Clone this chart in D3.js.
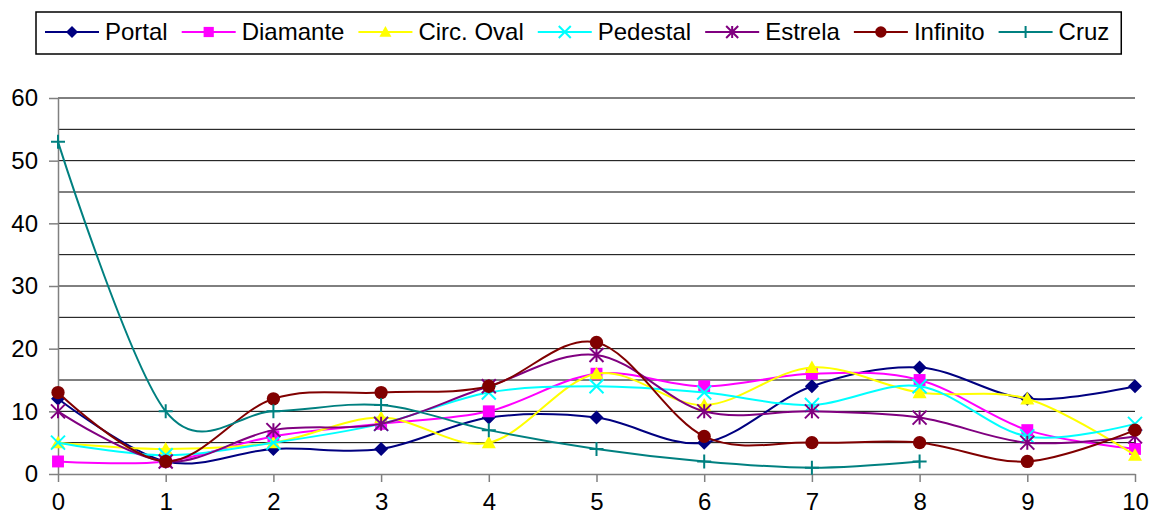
<!DOCTYPE html>
<html>
<head>
<meta charset="utf-8">
<script src="https://cdn.jsdelivr.net/npm/d3@7/dist/d3.min.js"></script>
<style>
  html, body { margin: 0; padding: 0; background: #fff; }
  svg { display: block; font-family: "Liberation Sans", Arial, sans-serif; }
</style>
</head>
<body>
<svg id="chart" width="1157" height="517"></svg>
<script>
// ---- data ----
const categories = [0, 1, 2, 3, 4, 5, 6, 7, 8, 9, 10];
const seriesNames = ["Portal", "Diamante", "Circ. Oval", "Pedestal", "Estrela", "Infinito", "Cruz"];
const portal   = [12, 2, 4, 4, 9, 9, 5, 14, 17, 12, 14];
const diamante = [2, 2, 6, 8, 10, 16, 14, 16, 15, 7, 4];
const circOval = [5, 4, 5, 9, 5, 16, 11, 17, 13, 12, 3];
const pedestal = [5, 3, 5, 8, 13, 14, 13, 11, 14, 6, 8];
const estrela  = [10, 2, 7, 8, 14, 19, 10, 10, 9, 5, 6];
const infinito = [13, 2, 12, 13, 14, 21, 6, 5, 5, 2, 7];
const cruz     = [53, 10, 10, 11, 7, 4, 2, 1, 2, null, null];
const yTicks = [0, 10, 20, 30, 40, 50, 60];
const yGrid = [5, 10, 15, 20, 25, 30, 35, 40, 45, 50, 55, 60];

const seriesValues = [portal, diamante, circOval, pedestal, estrela, infinito, cruz];
const colors = ["#000080", "#FF00FF", "#FFFF00", "#00FFFF", "#800080", "#800000", "#008080"];
const markerTypes = ["diamond", "square", "triangle", "x", "star", "circle", "plus"];

// ---- layout ----
const svg = d3.select("#chart");
const plotLeft = 58, plotRight = 1135, plotTop = 98, plotBottom = 474;
const x = d3.scaleLinear().domain([0, 10]).range([plotLeft, plotRight]);
const y = d3.scaleLinear().domain([0, 60]).range([plotBottom, plotTop]);

// gridlines
svg.append("g").selectAll("line").data(yGrid).join("line")
  .attr("x1", plotLeft).attr("x2", plotRight)
  .attr("y1", d => y(d)).attr("y2", d => y(d))
  .attr("stroke", "#000").attr("stroke-width", 1);

// axes
const yAxis = svg.append("g").attr("transform", `translate(${plotLeft},0)`)
  .call(d3.axisLeft(y).tickValues(yTicks).tickSize(9).tickPadding(11).tickSizeOuter(0));
const xAxis = svg.append("g").attr("transform", `translate(0,${plotBottom})`)
  .call(d3.axisBottom(x).tickValues(categories).tickSize(8).tickPadding(11).tickSizeOuter(0).tickFormat(d3.format("d")));
[yAxis, xAxis].forEach(a => {
  a.select(".domain").attr("stroke", "#808080").attr("stroke-width", 1.5);
  a.selectAll(".tick line").attr("stroke", "#808080").attr("stroke-width", 1.5);
  a.selectAll(".tick text").attr("font-size", 24).attr("fill", "#000")
    .attr("font-family", "'Liberation Sans', Arial, sans-serif");
});

// marker drawing
function drawMarker(g, type, color, s) {
  const h = s / 2;
  if (type === "diamond") {
    g.append("path").attr("d", `M0,${-h}L${h},0L0,${h}L${-h},0Z`).attr("fill", color);
  } else if (type === "square") {
    g.append("rect").attr("x", -h * 0.85).attr("y", -h * 0.85).attr("width", s * 0.85).attr("height", s * 0.85).attr("fill", color);
  } else if (type === "triangle") {
    g.append("path").attr("d", `M0,${-h}L${h},${h * 0.8}L${-h},${h * 0.8}Z`).attr("fill", color);
  } else if (type === "circle") {
    g.append("circle").attr("r", h * 0.95).attr("fill", color);
  } else if (type === "x") {
    g.append("path").attr("d", `M${-h},${-h}L${h},${h}M${h},${-h}L${-h},${h}`)
      .attr("stroke", color).attr("stroke-width", 2).attr("fill", "none");
  } else if (type === "star") {
    g.append("path").attr("d", `M${-h},${-h}L${h},${h}M${h},${-h}L${-h},${h}M0,${-h}L0,${h}`)
      .attr("stroke", color).attr("stroke-width", 2).attr("fill", "none");
  } else if (type === "plus") {
    g.append("path").attr("d", `M${-h},0L${h},0M0,${-h}L0,${h}`)
      .attr("stroke", color).attr("stroke-width", 2).attr("fill", "none");
  }
}

// series
const lineGen = d3.line()
  .x(d => x(d.c)).y(d => y(d.v))
  .curve(d3.curveCardinal.tension(0));

seriesNames.forEach((name, i) => {
  const pts = categories.map((c, j) => ({ c, v: seriesValues[i][j] })).filter(p => p.v !== null);
  const g = svg.append("g").attr("class", "series");
  g.append("path").datum(pts)
    .attr("d", lineGen).attr("fill", "none")
    .attr("stroke", colors[i]).attr("stroke-width", 2);
  pts.forEach(p => {
    const mg = g.append("g").attr("transform", `translate(${x(p.c)},${y(p.v)})`);
    drawMarker(mg, markerTypes[i], colors[i], 14);
  });
});

// legend
const legend = svg.append("g");
const box = legend.append("rect");
let cx = 45;
const ly = 32;
seriesNames.forEach((name, i) => {
  const it = legend.append("g");
  it.append("line").attr("x1", cx).attr("x2", cx + 54).attr("y1", ly).attr("y2", ly)
    .attr("stroke", colors[i]).attr("stroke-width", 2);
  const mg = it.append("g").attr("transform", `translate(${cx + 27},${ly})`);
  drawMarker(mg, markerTypes[i], colors[i], 12);
  const t = it.append("text").attr("x", cx + 60).attr("y", 40)
    .attr("font-size", 24).attr("fill", "#000").text(name);
  cx = cx + 60 + t.node().getComputedTextLength() + 14;
});
box.attr("x", 36).attr("y", 12).attr("width", cx - 14 + 12 - 36).attr("height", 42)
  .attr("fill", "#fff").attr("stroke", "#000").attr("stroke-width", 1.5);
</script>
</body>
</html>
